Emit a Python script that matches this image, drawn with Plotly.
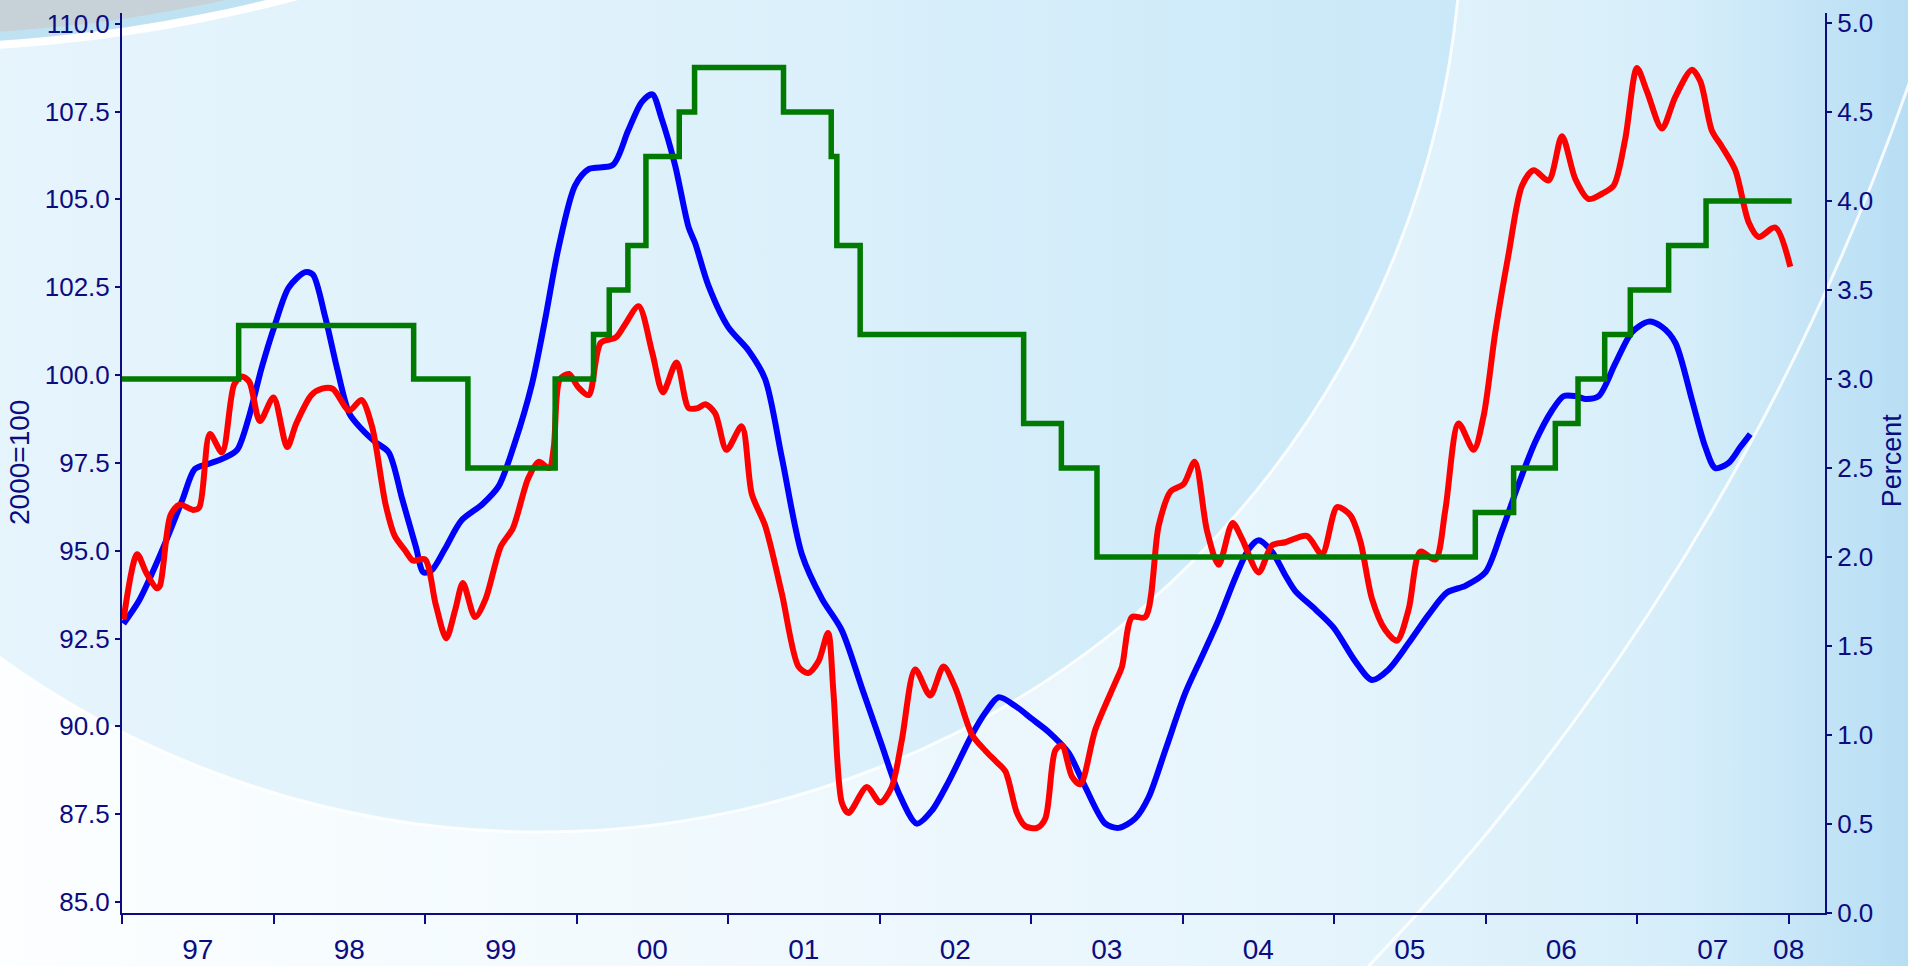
import base64
import plotly.graph_objects as go

# ---------------- data ----------------
blue_x = [1997.01, 1997.11, 1997.20, 1997.29, 1997.40, 1997.48, 1997.57, 1997.68, 1997.76, 1997.84,
          1997.92, 1998.01, 1998.10, 1998.21, 1998.26, 1998.34, 1998.42, 1998.50, 1998.58, 1998.67,
          1998.76, 1998.85, 1998.94, 1998.99, 1999.045, 1999.13, 1999.24, 1999.375, 1999.485, 1999.595,
          1999.705, 1999.79, 1999.88, 1999.99, 2000.08, 2000.24, 2000.34, 2000.43, 2000.50, 2000.56,
          2000.65, 2000.74, 2000.783, 2000.87, 2001.00, 2001.135, 2001.245, 2001.355, 2001.487, 2001.62,
          2001.75, 2001.883, 2002.015, 2002.125, 2002.246, 2002.345, 2002.455, 2002.61, 2002.70, 2002.786,
          2002.896, 2003.006, 2003.116, 2003.248, 2003.358, 2003.49, 2003.578, 2003.688, 2003.776, 2003.886,
          2004.018, 2004.128, 2004.238, 2004.348, 2004.436, 2004.502, 2004.59, 2004.678, 2004.744, 2004.876,
          2004.997, 2005.14, 2005.25, 2005.36, 2005.492, 2005.624, 2005.745, 2005.866, 2005.998, 2006.108,
          2006.218, 2006.328, 2006.438, 2006.515, 2006.592, 2006.658, 2006.746, 2006.856, 2006.966, 2007.076,
          2007.164, 2007.252, 2007.362, 2007.45, 2007.516, 2007.604, 2007.681, 2007.747]
blue_y = [92.92, 93.56, 94.37, 95.27, 96.46, 97.32, 97.47, 97.65, 97.87, 98.84,
          100.18, 101.44, 102.49, 102.93, 102.86, 101.67, 100.18, 98.91, 98.47, 98.10,
          97.80, 96.46, 95.10, 94.38, 94.45, 95.04, 95.86, 96.31, 96.83, 98.10,
          99.73, 101.52, 103.60, 105.39, 105.86, 105.98, 106.95, 107.77, 107.99, 107.32,
          105.98, 104.20, 103.75, 102.55, 101.37, 100.70, 99.88, 97.65, 94.90, 93.63,
          92.74, 91.10, 89.46, 88.12, 87.23, 87.60, 88.42, 89.76, 90.40, 90.83,
          90.58, 90.21, 89.84, 89.24, 88.27, 87.23, 87.11, 87.38, 87.98, 89.32,
          90.95, 91.99, 93.04, 94.23, 95.04, 95.30, 94.97, 94.30, 93.85, 93.33,
          92.81, 91.85, 91.32, 91.62, 92.37, 93.18, 93.81, 94.00, 94.38, 95.57,
          96.90, 98.10, 98.99, 99.40, 99.40, 99.32, 99.40, 100.33, 101.22, 101.52,
          101.37, 100.92, 99.29, 97.95, 97.35, 97.50, 97.95, 98.32]

red_x = [1997.01, 1997.10, 1997.16, 1997.23, 1997.25, 1997.32, 1997.38, 1997.47, 1997.51, 1997.58,
         1997.66, 1997.74, 1997.79, 1997.84, 1997.91, 1998.00, 1998.09, 1998.15, 1998.25, 1998.32,
         1998.39, 1998.50, 1998.58, 1998.65, 1998.74, 1998.80, 1998.87, 1998.92, 1999.00, 1999.07,
         1999.14, 1999.20, 1999.25, 1999.33, 1999.40, 1999.50, 1999.58, 1999.68, 1999.75, 1999.82,
         1999.85, 1999.89, 1999.95, 2000.01, 2000.08, 2000.16, 2000.26, 2000.32, 2000.41, 2000.50,
         2000.57, 2000.66, 2000.74, 2000.80, 2000.85, 2000.915, 2000.99, 2001.09, 2001.157, 2001.245,
         2001.355, 2001.465, 2001.53, 2001.597, 2001.66, 2001.696, 2001.751, 2001.795, 2001.916, 2002.004,
         2002.08, 2002.147, 2002.235, 2002.334, 2002.422, 2002.50, 2002.61, 2002.70, 2002.764, 2002.83,
         2002.907, 2002.962, 2003.039, 2003.094, 2003.16, 2003.204, 2003.27, 2003.325, 2003.424, 2003.556,
         2003.60, 2003.666, 2003.754, 2003.842, 2003.92, 2004.007, 2004.08, 2004.161, 2004.238, 2004.33,
         2004.392, 2004.502, 2004.59, 2004.678, 2004.82, 2004.92, 2005.02, 2005.107, 2005.173, 2005.25,
         2005.338, 2005.415, 2005.492, 2005.569, 2005.668, 2005.734, 2005.822, 2005.921, 2005.987, 2006.064,
         2006.152, 2006.24, 2006.317, 2006.416, 2006.504, 2006.592, 2006.68, 2006.768, 2006.845, 2006.922,
         2006.999, 2007.065, 2007.164, 2007.252, 2007.362, 2007.417, 2007.494, 2007.56, 2007.648, 2007.736,
         2007.802, 2007.912, 2008.011]
red_y = [93.04, 94.90, 94.37, 93.93, 94.00, 96.01, 96.31, 96.16, 96.23, 98.32,
         97.80, 99.73, 99.96, 99.81, 98.69, 99.36, 97.95, 98.62, 99.43, 99.61,
         99.61, 98.99, 99.29, 98.54, 96.31, 95.42, 95.00, 94.72, 94.75, 93.48,
         92.51, 93.33, 94.08, 93.11, 93.63, 95.12, 95.64, 97.05, 97.53, 97.35,
         97.95, 99.88, 100.03, 99.66, 99.43, 100.92, 101.07, 101.44, 101.96, 100.63,
         99.51, 100.36, 99.06, 99.06, 99.17, 98.91, 97.87, 98.54, 96.61, 95.71,
         93.78, 91.70, 91.52, 91.85, 92.66, 90.95, 87.83, 87.53, 88.27, 87.83,
         88.27, 89.61, 91.62, 90.88, 91.70, 91.10, 89.76, 89.30, 89.02, 88.72,
         87.53, 87.16, 87.11, 87.38, 89.32, 89.46, 88.57, 88.35, 89.91, 91.25,
         91.70, 93.11, 93.11, 95.71, 96.68, 96.90, 97.53, 95.57, 94.60, 95.79,
         95.34, 94.38, 95.15, 95.24, 95.42, 94.90, 96.24, 96.01, 95.27, 93.63,
         92.74, 92.44, 93.33, 94.97, 94.75, 96.16, 98.62, 97.87, 98.84, 101.22,
         103.45, 105.39, 105.83, 105.54, 106.80, 105.58, 105.01, 105.16, 105.39, 106.73,
         108.74, 108.07, 107.02, 107.92, 108.69, 108.36, 106.95, 106.50, 105.83, 104.35,
         103.93, 104.20, 103.08]

green_x = [1997.0, 1997.77, 1998.925, 1999.283, 1999.859, 2000.112, 2000.216, 2000.339, 2000.458,
           2000.678, 2000.779, 2001.366, 2001.681, 2001.718, 2001.872, 2002.951, 2003.2, 2003.435,
           2005.932, 2006.185, 2006.46, 2006.61, 2006.786, 2006.955, 2007.208, 2007.455, 2008.02]
green_y = [3.0, 3.3, 3.0, 2.5, 3.0, 3.25, 3.5, 3.75, 4.25,
           4.5, 4.75, 4.5, 4.25, 3.75, 3.25, 2.75, 2.5, 2.0,
           2.25, 2.5, 2.75, 3.0, 3.25, 3.5, 3.75, 4.0, 4.0]

year_bounds = list(range(1997, 2009))
year_label_pos = [1997.5, 1998.5, 1999.5, 2000.5, 2001.5, 2002.5, 2003.5, 2004.5, 2005.5, 2006.5, 2007.5, 2008.0]
year_labels = ["97", "98", "99", "00", "01", "02", "03", "04", "05", "06", "07", "08"]
left_ticks = [85.0, 87.5, 90.0, 92.5, 95.0, 97.5, 100.0, 102.5, 105.0, 107.5, 110.0]
right_ticks = [0.0, 0.5, 1.0, 1.5, 2.0, 2.5, 3.0, 3.5, 4.0, 4.5, 5.0]

# ---------------- style ----------------
W, H = 1908, 966
ML, MR, MT, MB = 122, 83, 13, 53
PW, PH = W - ML - MR, H - MT - MB
NAVY = "#0c0c80"
FONT = "Liberation Sans, Arial, sans-serif"

svg = f'''<svg xmlns="http://www.w3.org/2000/svg" width="{W}" height="{H}" viewBox="0 0 {W} {H}" preserveAspectRatio="none">
<defs>
<linearGradient id="bg" gradientUnits="userSpaceOnUse" x1="0" y1="0" x2="{W}" y2="0">
<stop offset="0" stop-color="#fcfeff"/>
<stop offset="0.45" stop-color="#eef8fd"/>
<stop offset="0.7" stop-color="#e5f4fc"/>
<stop offset="0.88" stop-color="#d6eefa"/>
<stop offset="1" stop-color="#b8def4"/>
</linearGradient>
<linearGradient id="ca" gradientUnits="userSpaceOnUse" x1="0" y1="0" x2="1460" y2="0">
<stop offset="0" stop-color="#e6f4fc"/>
<stop offset="0.5" stop-color="#ddf1fb"/>
<stop offset="1" stop-color="#c9e8f8"/>
</linearGradient>
</defs>
<rect x="0" y="0" width="{W}" height="{H}" fill="url(#bg)"/>
<circle cx="540" cy="-90" r="922" fill="url(#ca)" stroke="#ffffff" stroke-opacity="0.85" stroke-width="3"/>
<circle cx="-386" cy="-715" r="2430" fill="none" stroke="#ffffff" stroke-opacity="0.85" stroke-width="3"/>
<circle cx="-100" cy="-1500" r="1552" fill="#ffffff"/>
<circle cx="-100" cy="-1500" r="1544" fill="#bfe2f3"/>
<circle cx="-100" cy="-1500" r="1535" fill="#c6d2d8"/>
</svg>'''
bg_uri = "data:image/svg+xml;base64," + base64.b64encode(svg.encode("utf-8")).decode("ascii")

fig = go.Figure()
fig.add_trace(go.Scatter(x=green_x, y=green_y, yaxis="y2", mode="lines",
                         line=dict(color="#007a00", width=5.5, shape="hv"), showlegend=False))
fig.add_trace(go.Scatter(x=blue_x, y=blue_y, mode="lines",
                         line=dict(color="#0000ff", width=6, shape="spline", smoothing=0.8), showlegend=False))
fig.add_trace(go.Scatter(x=red_x, y=red_y, mode="lines",
                         line=dict(color="#ff0000", width=6, shape="spline", smoothing=0.8), showlegend=False))

tickfont = dict(family=FONT, size=26, color=NAVY)
xtickfont = dict(family=FONT, size=28, color=NAVY)
fig.update_layout(
    width=W, height=H, autosize=False,
    margin=dict(l=ML, r=MR, t=MT, b=MB, pad=0),
    paper_bgcolor="#e6f4fc", plot_bgcolor="rgba(0,0,0,0)",
    font=dict(family=FONT, color=NAVY),
    xaxis=dict(range=[1997.0, 2008.24], showgrid=False, zeroline=False, automargin=False,
               showline=True, linecolor=NAVY, linewidth=2,
               tickmode="array", tickvals=year_label_pos, ticktext=year_labels,
               ticks="outside", ticklen=10, tickcolor="rgba(0,0,0,0)", tickfont=xtickfont,
               minor=dict(tickmode="array", tickvals=year_bounds, ticks="outside",
                          ticklen=9, tickwidth=2, tickcolor=NAVY, showgrid=False)),
    yaxis=dict(range=[84.687, 110.305], showgrid=False, zeroline=False, automargin=False,
               showline=True, linecolor=NAVY, linewidth=2,
               tickmode="array", tickvals=left_ticks, tickformat=".1f",
               ticks="outside", ticklen=5, tickwidth=2, tickcolor=NAVY, tickfont=tickfont),
    yaxis2=dict(range=[0, 5.056], overlaying="y", side="right", showgrid=False, zeroline=False,
                automargin=False, showline=True, linecolor=NAVY, linewidth=2,
                tickmode="array", tickvals=right_ticks, tickformat=".1f",
                ticks="outside", ticklen=5, tickwidth=2, tickcolor=NAVY, tickfont=tickfont),
    images=[dict(source=bg_uri, xref="paper", yref="paper",
                 x=-ML / PW, y=1 + MT / PH, sizex=W / PW, sizey=H / PH,
                 xanchor="left", yanchor="top", sizing="stretch", layer="below")],
    annotations=[
        dict(text="2000=100", xref="paper", yref="paper", x=(19 - ML) / PW, y=0.5,
             xanchor="center", yanchor="middle", textangle=-90, showarrow=False,
             font=dict(family=FONT, size=28, color=NAVY)),
        dict(text="Percent", xref="paper", yref="paper", x=(1892 - ML) / PW, y=0.503,
             xanchor="center", yanchor="middle", textangle=-90, showarrow=False,
             font=dict(family=FONT, size=27, color=NAVY)),
    ],
)

fig.write_html("out.html", config={"displayModeBar": False},
               post_script="document.body.style.margin='0';document.body.style.overflow='hidden';")
